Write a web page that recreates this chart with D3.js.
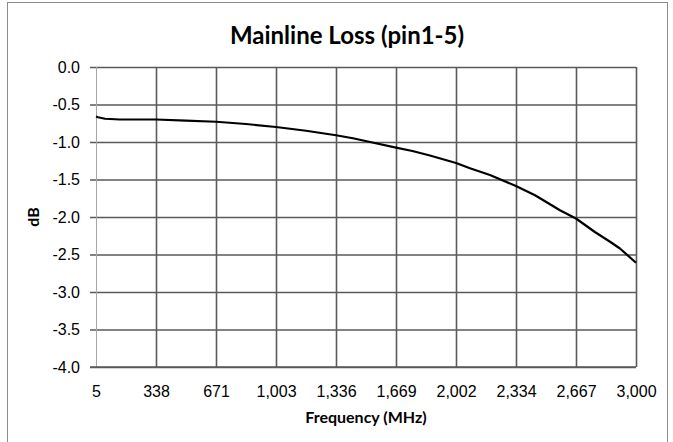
<!DOCTYPE html>
<html>
<head>
<meta charset="utf-8">
<script src="https://cdn.jsdelivr.net/npm/d3@7"></script>
<style>
  body { margin: 0; background: #fff; }
  svg { display: block; font-family: Lato, "Open Sans", sans-serif; }
</style>
</head>
<body>
<svg id="chart" width="673" height="442"></svg>
<script>
// data
let freq = [5, 16, 55, 138, 338, 504, 671, 837, 1003, 1170, 1336, 1430, 1525, 1669, 1760, 1857, 2002, 2079, 2190, 2334, 2440, 2523, 2578, 2667, 2772, 2856, 2911, 3000]
let loss = [-0.66, -0.67, -0.69, -0.70, -0.70, -0.715, -0.73, -0.76, -0.80, -0.85, -0.91, -0.95, -1.00, -1.075, -1.12, -1.18, -1.28, -1.35, -1.44, -1.587, -1.71, -1.83, -1.91, -2.02, -2.20, -2.33, -2.42, -2.61]
let xTicks = [5, 338, 671, 1003, 1336, 1669, 2002, 2334, 2667, 3000]
let yTicks = [0, -0.5, -1.0, -1.5, -2.0, -2.5, -3.0, -3.5, -4.0]

let margin = { top: 67, right: 37, bottom: 75, left: 96 }
let width = 673
let height = 442

let svg = d3.select("#chart")

// chart border
svg.append("rect")
    .attr("x", 7.5).attr("y", 2.5)
    .attr("width", 660).attr("height", 450)
    .style("fill", "none")
    .style("stroke", "#8c8c8c")
    .style("stroke-width", 1)

// x ticks are evenly spaced between 5 and 3000
let x = d3.scaleLinear()
    .domain([5, 3000])
    .range([margin.left, width - margin.right])

let y = d3.scaleLinear()
    .domain([-4, 0])
    .range([height - margin.bottom, margin.top])

let xTickPos = d3.range(xTicks.length).map(i => 5 + i * (3000 - 5) / (xTicks.length - 1))

let yAxisSettings = d3.axisLeft(y)
    .tickValues(yTicks)
    .tickFormat(d => d3.format(".1f")(d).replace("\u2212", "-"))
    .tickSize(-(width - margin.right - margin.left) - 6)
    .tickPadding(10)

let yAxisTicks = svg.append("g")
    .attr("class", "y axis")
    .attr("transform", `translate(${margin.left - 6}, 0)`)
    .call(yAxisSettings)

yAxisTicks.select(".domain").remove()
yAxisTicks.selectAll("line")
    .style("stroke", "#5a5a5a")
    .style("stroke-width", "1.6px")
yAxisTicks.selectAll("text")
    .style("font-size", "16px")
    .style("fill", "#000")
    .attr("x", -10)

let xAxisSettings = d3.axisBottom(x)
    .tickValues(xTickPos)
    .tickFormat((d, i) => d3.format(",")(xTicks[i]))
    .tickSize(-(height - margin.bottom - margin.top))
    .tickPadding(19)

let xAxisTicks = svg.append("g")
    .attr("class", "x axis")
    .attr("transform", `translate(0, ${height - margin.bottom})`)
    .call(xAxisSettings)

xAxisTicks.select(".domain").remove()
xAxisTicks.selectAll("line")
    .style("stroke", d => d == 5 ? "#a6a6a6" : "#5a5a5a")
    .style("stroke-width", d => d == 5 ? "1px" : "1.6px")
xAxisTicks.selectAll("text")
    .style("font-size", "16px")
    .style("fill", "#000")

// bottom line redrawn on top of the left axis line
svg.append("line")
    .attr("x1", margin.left - 6)
    .attr("x2", width - margin.right)
    .attr("y1", y(-4))
    .attr("y2", y(-4))
    .style("stroke", "#5a5a5a")
    .style("stroke-width", "1.6px")

let line = d3.line()
    .x((d, i) => x(freq[i]))
    .y(d => y(d))

svg.append("path")
    .datum(loss)
    .attr("d", line)
    .style("fill", "none")
    .style("stroke", "#000")
    .style("stroke-width", "2.2px")
    .style("stroke-linejoin", "round")

svg.append("text")
    .attr("x", 347)
    .attr("y", 44)
    .attr("text-anchor", "middle")
    .style("font-size", "24px")
    .style("font-weight", "bold")
    .text("Mainline Loss (pin1-5)")

svg.append("text")
    .attr("x", (margin.left + width - margin.right) / 2)
    .attr("y", 423)
    .attr("text-anchor", "middle")
    .style("font-size", "16px")
    .style("font-weight", "bold")
    .text("Frequency (MHz)")

svg.append("text")
    .attr("transform", `translate(39, ${y(-2)}) rotate(-90)`)
    .attr("text-anchor", "middle")
    .style("font-size", "16px")
    .style("font-weight", "bold")
    .text("dB")
</script>
</body>
</html>
